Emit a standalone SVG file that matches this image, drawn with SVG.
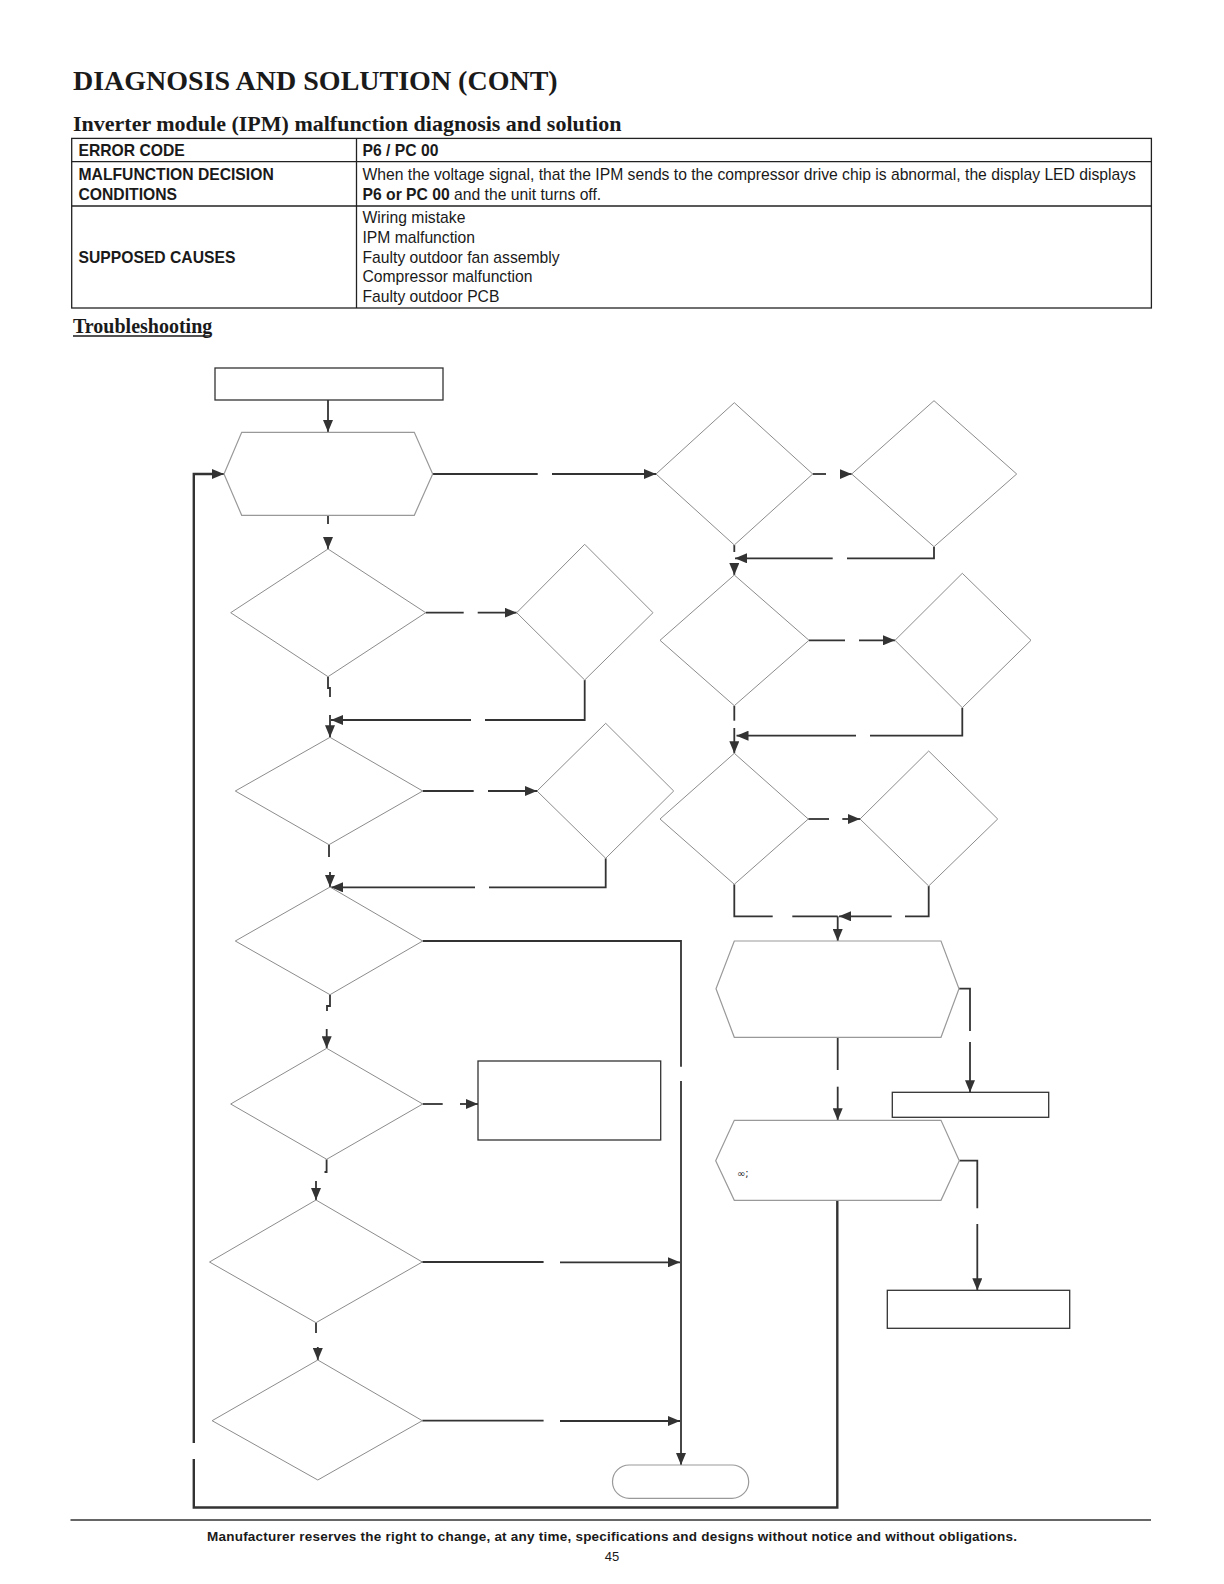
<svg xmlns="http://www.w3.org/2000/svg" width="1224" height="1584" viewBox="0 0 1224 1584">
<defs>
<marker id="ah" markerUnits="userSpaceOnUse" markerWidth="12" markerHeight="10" refX="12" refY="5" orient="auto">
<path d="M0,0 L12,5 L0,10 z" fill="#333"/>
</marker>
<style>
.ttl{font-family:"Liberation Serif",serif;font-weight:bold;fill:#1a1a1a}
.tb{font-family:"Liberation Sans",Arial,sans-serif;font-size:15.7px;fill:#1a1a1a}
.b{font-weight:bold}
.grid{fill:none;stroke:#222;stroke-width:1.3}
.dia{fill:#fff;stroke:#8c8c8c;stroke-width:1}
.hex{fill:#fff;stroke:#999;stroke-width:1.2}
.box{fill:#fff;stroke:#333;stroke-width:1.3}
.c{fill:none;stroke:#333;stroke-width:1.8}
.ca{fill:none;stroke:#333;stroke-width:1.8;marker-end:url(#ah)}
.loop{fill:none;stroke:#333;stroke-width:2.4}
</style>
</defs>
<rect width="1224" height="1584" fill="#fff"/>

<g id="header">
<text class="ttl" x="73" y="90" font-size="28">DIAGNOSIS AND SOLUTION (CONT)</text>
<text class="ttl" x="73" y="130.5" font-size="22">Inverter module (IPM) malfunction diagnosis and solution</text>
</g>

<g id="table">
<rect class="grid" x="71.7" y="138.4" width="1079.7" height="169.6"/>
<line class="grid" x1="71.7" y1="161.6" x2="1151.4" y2="161.6"/>
<line class="grid" x1="71.7" y1="206" x2="1151.4" y2="206"/>
<line class="grid" x1="356.5" y1="138.4" x2="356.5" y2="308"/>
<text class="tb b" x="78.5" y="156">ERROR CODE</text>
<text class="tb b" x="362.5" y="156">P6 / PC 00</text>
<text class="tb b" x="78.5" y="180">MALFUNCTION DECISION</text>
<text class="tb b" x="78.5" y="200">CONDITIONS</text>
<text class="tb" x="362.5" y="180">When the voltage signal, that the IPM sends to the compressor drive chip is abnormal, the display LED displays</text>
<text class="tb" x="362.5" y="200"><tspan class="b">P6 or PC 00</tspan> and the unit turns off.</text>
<text class="tb b" x="78.5" y="262.5">SUPPOSED CAUSES</text>
<text class="tb" x="362.5" y="222.5">Wiring mistake</text>
<text class="tb" x="362.5" y="242.5">IPM malfunction</text>
<text class="tb" x="362.5" y="262.5">Faulty outdoor fan assembly</text>
<text class="tb" x="362.5" y="282.3">Compressor malfunction</text>
<text class="tb" x="362.5" y="302.2">Faulty outdoor PCB</text>
</g>

<g id="troubleshooting">
<text class="ttl" x="73" y="332.5" font-size="20">Troubleshooting</text>
<line x1="73" y1="336" x2="210" y2="336" stroke="#1a1a1a" stroke-width="1.3"/>
</g>

<g id="connectors">
<line class="ca" x1="328" y1="400" x2="328" y2="432"/>
<line class="c" x1="432.7" y1="474" x2="537.7" y2="474"/>
<line class="ca" x1="552" y1="474" x2="656" y2="474"/>
<line class="c" x1="328" y1="515.3" x2="328" y2="524"/>
<line class="ca" x1="328" y1="538" x2="328" y2="549"/>
<line class="c" x1="425.7" y1="612.7" x2="463.7" y2="612.7"/>
<line class="ca" x1="477.7" y1="612.7" x2="516.7" y2="612.7"/>
<path class="c" d="M328 676.7 V688 H330 V697"/>
<path class="c" d="M584.7 680 V720 H485"/>
<line class="ca" x1="471" y1="720" x2="331" y2="720"/>
<line class="ca" x1="330" y1="715" x2="330" y2="737.3"/>
<line class="c" x1="422.7" y1="791" x2="473.7" y2="791"/>
<line class="ca" x1="488" y1="791" x2="537" y2="791"/>
<line class="c" x1="329" y1="844.7" x2="329" y2="857"/>
<line class="ca" x1="330" y1="872" x2="330" y2="887"/>
<path class="c" d="M605.7 858.3 V887.3 H489"/>
<line class="ca" x1="475" y1="887.3" x2="331" y2="887.3"/>
<path class="c" d="M422.7 941 H681 V1066.7"/>
<line class="ca" x1="681" y1="1081" x2="681" y2="1465"/>
<path class="c" d="M330 994.7 V1006 H327 V1011"/>
<line class="ca" x1="326.7" y1="1029" x2="326.7" y2="1048.3"/>
<line class="c" x1="422.7" y1="1104" x2="442.7" y2="1104"/>
<line class="ca" x1="460" y1="1104" x2="478" y2="1104"/>
<path class="c" d="M326.6 1159.3 V1172 H324.5"/>
<line class="ca" x1="316" y1="1181" x2="316" y2="1200"/>
<line class="c" x1="422.3" y1="1262" x2="543.6" y2="1262"/>
<line class="ca" x1="560" y1="1262.3" x2="680" y2="1262.3"/>
<line class="c" x1="316" y1="1322.7" x2="316" y2="1333"/>
<line class="ca" x1="317.8" y1="1347" x2="317.8" y2="1360"/>
<line class="c" x1="422.3" y1="1420.7" x2="543.6" y2="1420.7"/>
<line class="ca" x1="560" y1="1421" x2="680" y2="1421"/>
<path class="loop" d="M837.3 1200.3 V1507.5 H193.8 V1459"/>
<path class="loop" d="M193.8 1443 V474 H214"/>
<line class="ca" x1="212" y1="474" x2="224" y2="474"/>
<line class="c" x1="812.7" y1="474" x2="826" y2="474"/>
<line class="ca" x1="840" y1="474" x2="851.7" y2="474"/>
<line class="c" x1="734.3" y1="545" x2="734.3" y2="552"/>
<line class="ca" x1="734.3" y1="564" x2="734.3" y2="575"/>
<path class="c" d="M934 546.7 V558.3 H847"/>
<line class="ca" x1="832.7" y1="558.3" x2="735" y2="558.3"/>
<line class="c" x1="809" y1="640.3" x2="845" y2="640.3"/>
<line class="ca" x1="859" y1="640.3" x2="895" y2="640.3"/>
<line class="c" x1="734.3" y1="705.7" x2="734.3" y2="720.7"/>
<path class="c" d="M962.3 707.7 V735.7 H870"/>
<line class="ca" x1="856" y1="735.7" x2="736.5" y2="735.7"/>
<line class="ca" x1="734.3" y1="728" x2="734.3" y2="753.3"/>
<line class="c" x1="808.3" y1="819" x2="829" y2="819"/>
<line class="ca" x1="842.3" y1="819" x2="860" y2="819"/>
<path class="c" d="M734.3 884.3 V916.3 H772.7"/>
<line class="c" x1="792.3" y1="916.3" x2="837.7" y2="916.3"/>
<path class="c" d="M928.7 886 V916.3 H905"/>
<line class="ca" x1="891.7" y1="916.3" x2="839" y2="916.3"/>
<line class="ca" x1="837.7" y1="916.3" x2="837.7" y2="941"/>
<path class="c" d="M959 988.7 H970 V1031"/>
<line class="ca" x1="970" y1="1042" x2="970" y2="1092.3"/>
<line class="c" x1="837.7" y1="1037.3" x2="837.7" y2="1070"/>
<line class="ca" x1="837.7" y1="1086.7" x2="837.7" y2="1120.3"/>
<path class="c" d="M959.3 1160.7 H977.3 V1208.3"/>
<line class="ca" x1="977.3" y1="1224" x2="977.3" y2="1290.3"/>
</g>

<g id="n-start"><rect class="box" x="215" y="368" width="228" height="32"/></g>
<g id="n-hex1"><polygon class="hex" points="241.7,432.3 414.3,432.3 432.7,474 414.3,515.3 241.7,515.3 224,474"/></g>
<g id="n-d2"><polygon class="dia" points="328,549 425.7,612.7 328,676.7 230.7,612.7"/></g>
<g id="n-d3"><polygon class="dia" points="584.7,544.3 653,612.7 584.7,680 516.7,612.7"/></g>
<g id="n-d4"><polygon class="dia" points="330,737.3 422.7,791 329,844.7 235.3,791"/></g>
<g id="n-d5"><polygon class="dia" points="605.7,723.3 673.7,791 605.7,858.3 537,791"/></g>
<g id="n-d6"><polygon class="dia" points="330,887 422.7,941 330,994.7 235.3,941"/></g>
<g id="n-d7"><polygon class="dia" points="326.7,1048.3 422.7,1104 326.7,1159.3 230.7,1104"/></g>
<g id="n-box7"><rect class="box" x="478" y="1061" width="182.7" height="79"/></g>
<g id="n-d8"><polygon class="dia" points="316,1200 422.3,1262 316,1322.7 209.5,1262"/></g>
<g id="n-d9"><polygon class="dia" points="317.8,1360 422.3,1420.7 317.8,1480 212.1,1420.7"/></g>
<g id="n-end"><rect class="hex" x="612.5" y="1465" width="136.2" height="33.3" rx="16.7" ry="16.7"/></g>
<g id="n-r1"><polygon class="dia" points="734.3,402.7 812.7,474 734.3,545 656,474"/></g>
<g id="n-r2"><polygon class="dia" points="934,400.7 1016.7,474 934,546.7 851.7,474"/></g>
<g id="n-r3"><polygon class="dia" points="734.3,575 809,640.3 734.3,705.7 660,640.3"/></g>
<g id="n-r4"><polygon class="dia" points="962.3,573.3 1031,640.3 962.3,707.7 895,640.3"/></g>
<g id="n-r5"><polygon class="dia" points="734.3,753.3 808.3,819 734.3,884.3 660,819"/></g>
<g id="n-r6"><polygon class="dia" points="928.7,751 997.7,819 928.7,886 860,819"/></g>
<g id="n-hex2"><polygon class="hex" points="734.3,941 941,941 959,988.7 941,1037.3 734.3,1037.3 716,988.7"/></g>
<g id="n-boxr"><rect class="box" x="892.3" y="1092.3" width="156.4" height="25"/></g>
<g id="n-hex3"><polygon class="hex" points="734.3,1120.3 941,1120.3 959.3,1160.7 941,1200.3 734.3,1200.3 715.7,1160.7"/>
<text x="737" y="1177" font-family="DejaVu Sans,sans-serif" font-size="10" fill="#222">∞;</text></g>
<g id="n-boxr2"><rect class="box" x="887.3" y="1290.3" width="182.4" height="38"/></g>

<g id="footer">
<line x1="70.5" y1="1520" x2="1151" y2="1520" stroke="#333" stroke-width="1.3"/>
<text x="612" y="1541" text-anchor="middle" font-family="Liberation Sans,Arial,sans-serif" font-weight="bold" font-size="13.5" fill="#1a1a1a" textLength="810">Manufacturer reserves the right to change, at any time, specifications and designs without notice and without obligations.</text>
<text x="612" y="1561" text-anchor="middle" font-family="Liberation Sans,Arial,sans-serif" font-size="13" fill="#1a1a1a">45</text>
</g>
</svg>
